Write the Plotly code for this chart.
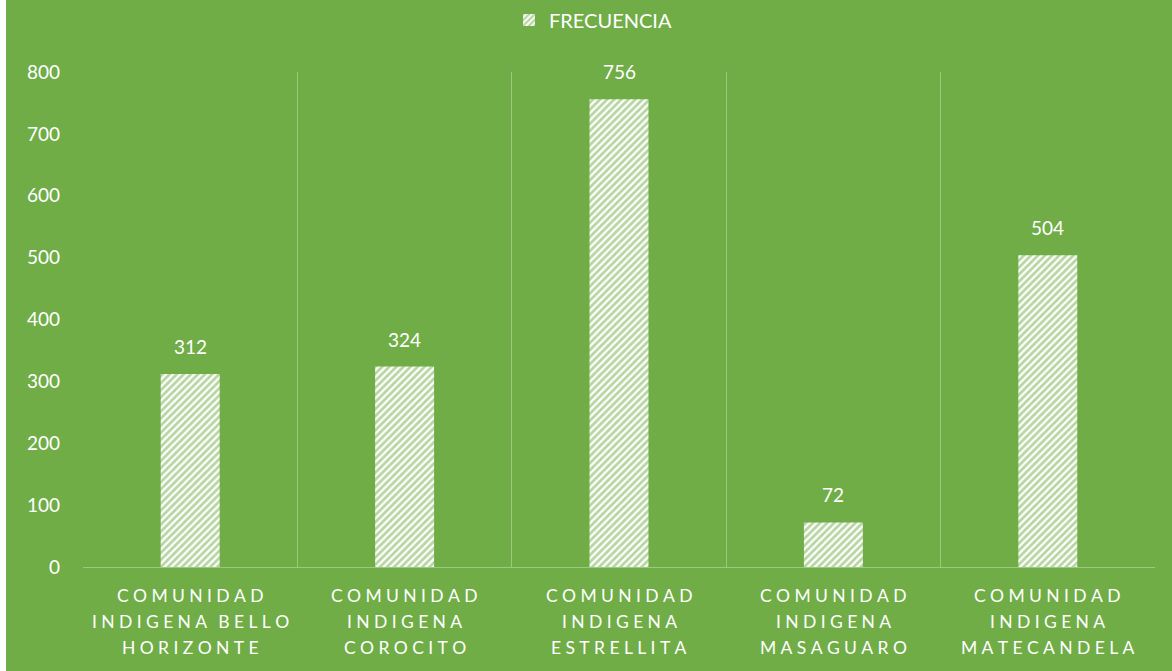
import plotly.graph_objects as go

categories = ["COMUNIDAD INDIGENA BELLO HORIZONTE", "COMUNIDAD INDIGENA COROCITO",
              "COMUNIDAD INDIGENA ESTRELLITA", "COMUNIDAD INDIGENA MASAGUARO",
              "COMUNIDAD INDIGENA MATECANDELA"]
label_lines = [["COMUNIDAD", "INDIGENA BELLO", "HORIZONTE"],
               ["COMUNIDAD", "INDIGENA", "COROCITO"],
               ["COMUNIDAD", "INDIGENA", "ESTRELLITA"],
               ["COMUNIDAD", "INDIGENA", "MASAGUARO"],
               ["COMUNIDAD", "INDIGENA", "MATECANDELA"]]
frecuencia = [312, 324, 756, 72, 504]
y_ticks = [0, 100, 200, 300, 400, 500, 600, 700, 800]

GREEN = "#70AD47"
GRID = "#9DC97F"
FONT = "Lato, Carlito, Calibri, sans-serif"

LETTER_SEP = "\u2009\u2009"
WORD_SEP = "\u2009\u2009\u00a0\u2009"
def spaced(s):
    return WORD_SEP.join(LETTER_SEP.join(list(w)) for w in s.split(" "))

fig = go.Figure()
fig.add_trace(go.Bar(
    x=categories, y=frecuencia, name="FRECUENCIA", width=0.275,
    marker=dict(color="white", line=dict(width=0),
                pattern=dict(shape="/", fgcolor=GREEN, bgcolor="white", size=5, solidity=0.55)),
))

annotations = []
for cat, v in zip(categories, frecuencia):
    annotations.append(dict(x=cat, y=v, xref="x", yref="y", text=str(v), showarrow=False,
                            yanchor="bottom", yshift=14, font=dict(family=FONT, size=19, color="white")))
for cat, lines in zip(categories, label_lines):
    for i, ln in enumerate(lines):
        annotations.append(dict(x=cat, y=0, xref="x", yref="paper", text=spaced(ln), showarrow=False,
                                yanchor="middle", yshift=-28 - 26 * i,
                                font=dict(family=FONT, size=17.5, color="white")))

fig.update_layout(
    width=1172, height=671,
    margin=dict(l=83, r=17, t=72, b=104, autoexpand=False),
    paper_bgcolor="white", plot_bgcolor="rgba(0,0,0,0)",
    font=dict(family=FONT, color="white"),
    showlegend=True,
    legend=dict(orientation="h", x=0.5 + 7 / 1172, xanchor="center", xref="container",
                y=1 - 20 / 671, yanchor="middle", yref="container",
                font=dict(family=FONT, size=20, color="white"), bgcolor="rgba(0,0,0,0)",
                itemwidth=30),
    xaxis=dict(type="category", tickson="boundaries", showgrid=True, gridcolor=GRID, gridwidth=1,
               showticklabels=False, ticks="", showline=True, linecolor=GRID, linewidth=1,
               zeroline=False, automargin=False),
    yaxis=dict(range=[0, 800], tickvals=y_ticks, showgrid=False, zeroline=False, showline=False,
               ticks="", ticklabelstandoff=22, automargin=False,
               tickfont=dict(family=FONT, size=19, color="white")),
    annotations=annotations,
    shapes=[dict(type="rect", xref="paper", yref="paper", x0=(6 - 83) / 1072, x1=1.1,
                 y0=-1, y1=2, fillcolor=GREEN, line=dict(width=0), layer="below")],
)

fig.write_html("out.html", config={"displayModeBar": False},
               post_script="document.body.style.margin='0';")
